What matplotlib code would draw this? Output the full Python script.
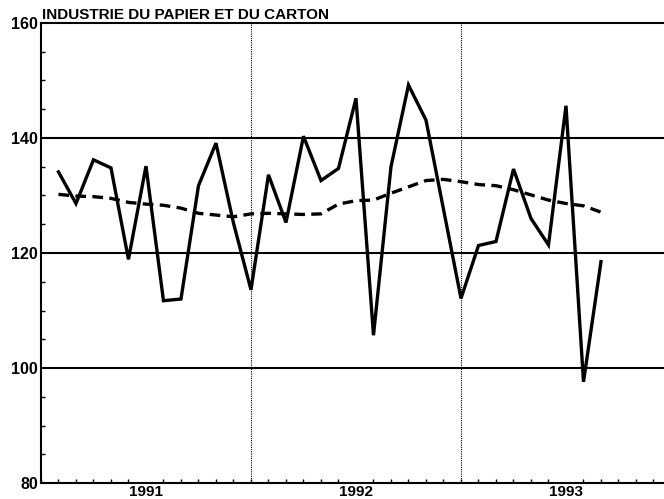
"""Monthly index chart: paper and board industry, with trend line."""

import matplotlib
matplotlib.use("Agg")
import matplotlib.pyplot as plt
from matplotlib.ticker import FixedLocator, MultipleLocator

TITLE = "INDUSTRIE DU PAPIER ET DU CARTON"

# month index from start of 1991 (0 = axis left edge)
MONTHS = list(range(1, 33))
INDEX = [
    134.1, 128.6, 136.2, 134.8, 118.9, 135.1, 111.7, 112.0, 131.7, 139.1, 125.2, 113.6,
    133.6, 125.3, 140.3, 132.6, 134.7, 146.9, 105.7, 135.0, 149.2, 143.1, 127.6, 112.1,
    121.3, 122.0, 134.6, 126.0, 121.4, 145.6, 97.6, 118.5,
]
TREND = [
    130.2, 129.9, 129.8, 129.5, 128.8, 128.5, 128.3, 127.8, 126.9, 126.6, 126.3, 126.8,
    126.9, 126.8, 126.7, 126.8, 128.5, 129.1, 129.2, 130.4, 131.5, 132.6, 132.8, 132.4,
    131.9, 131.7, 131.0, 130.1, 129.2, 128.6, 128.2, 127.1,
]
YEARS = ["1991", "1992", "1993"]
YEAR_CENTERS = [6, 18, 30]
YEAR_BOUNDS = [12, 24]
HLINES = [100, 120, 140]

plt.rcParams["font.family"] = ["Liberation Sans", "DejaVu Sans"]

fig = plt.figure(figsize=(6.64, 4.99), dpi=100)
ax = fig.add_axes([0.0617, 0.032, 0.9383, 0.922])

for y in HLINES:
    ax.axhline(y, color="black", lw=1.5, zorder=1)
for x in YEAR_BOUNDS:
    ax.axvline(x, color="black", lw=0.8, ls=(0, (1, 1)), zorder=1)

ax.plot(MONTHS, INDEX, color="black", lw=2.4, solid_joinstyle="miter", zorder=3)
ax.plot(MONTHS, TREND, color="black", lw=2.4, ls=(0, (3.2, 1.9)), zorder=2)

ax.set_xlim(0, 35.6)
ax.set_ylim(80, 160)

ax.spines["right"].set_visible(False)
for side in ("left", "bottom", "top"):
    ax.spines[side].set_linewidth(1.5)

ax.yaxis.set_major_locator(MultipleLocator(20))
ax.yaxis.set_minor_locator(MultipleLocator(5))
ax.xaxis.set_major_locator(FixedLocator(YEAR_CENTERS))
ax.xaxis.set_minor_locator(MultipleLocator(1))
ax.set_xticklabels(YEARS)

ax.tick_params(axis="y", which="major", direction="in", length=0, pad=2,
               labelsize=11.5)
ax.tick_params(axis="y", which="minor", direction="in", length=3, width=1)
ax.tick_params(axis="x", which="major", direction="in", length=0, pad=1.5,
               labelsize=11)
ax.tick_params(axis="x", which="minor", direction="in", length=3, width=1)
for lbl in ax.get_xticklabels() + ax.get_yticklabels():
    lbl.set_fontweight("bold")

ax.text(0.002, 1.002, TITLE, transform=ax.transAxes, ha="left", va="bottom",
        fontsize=11, fontweight="bold")

fig.savefig("out.png", dpi=100)
